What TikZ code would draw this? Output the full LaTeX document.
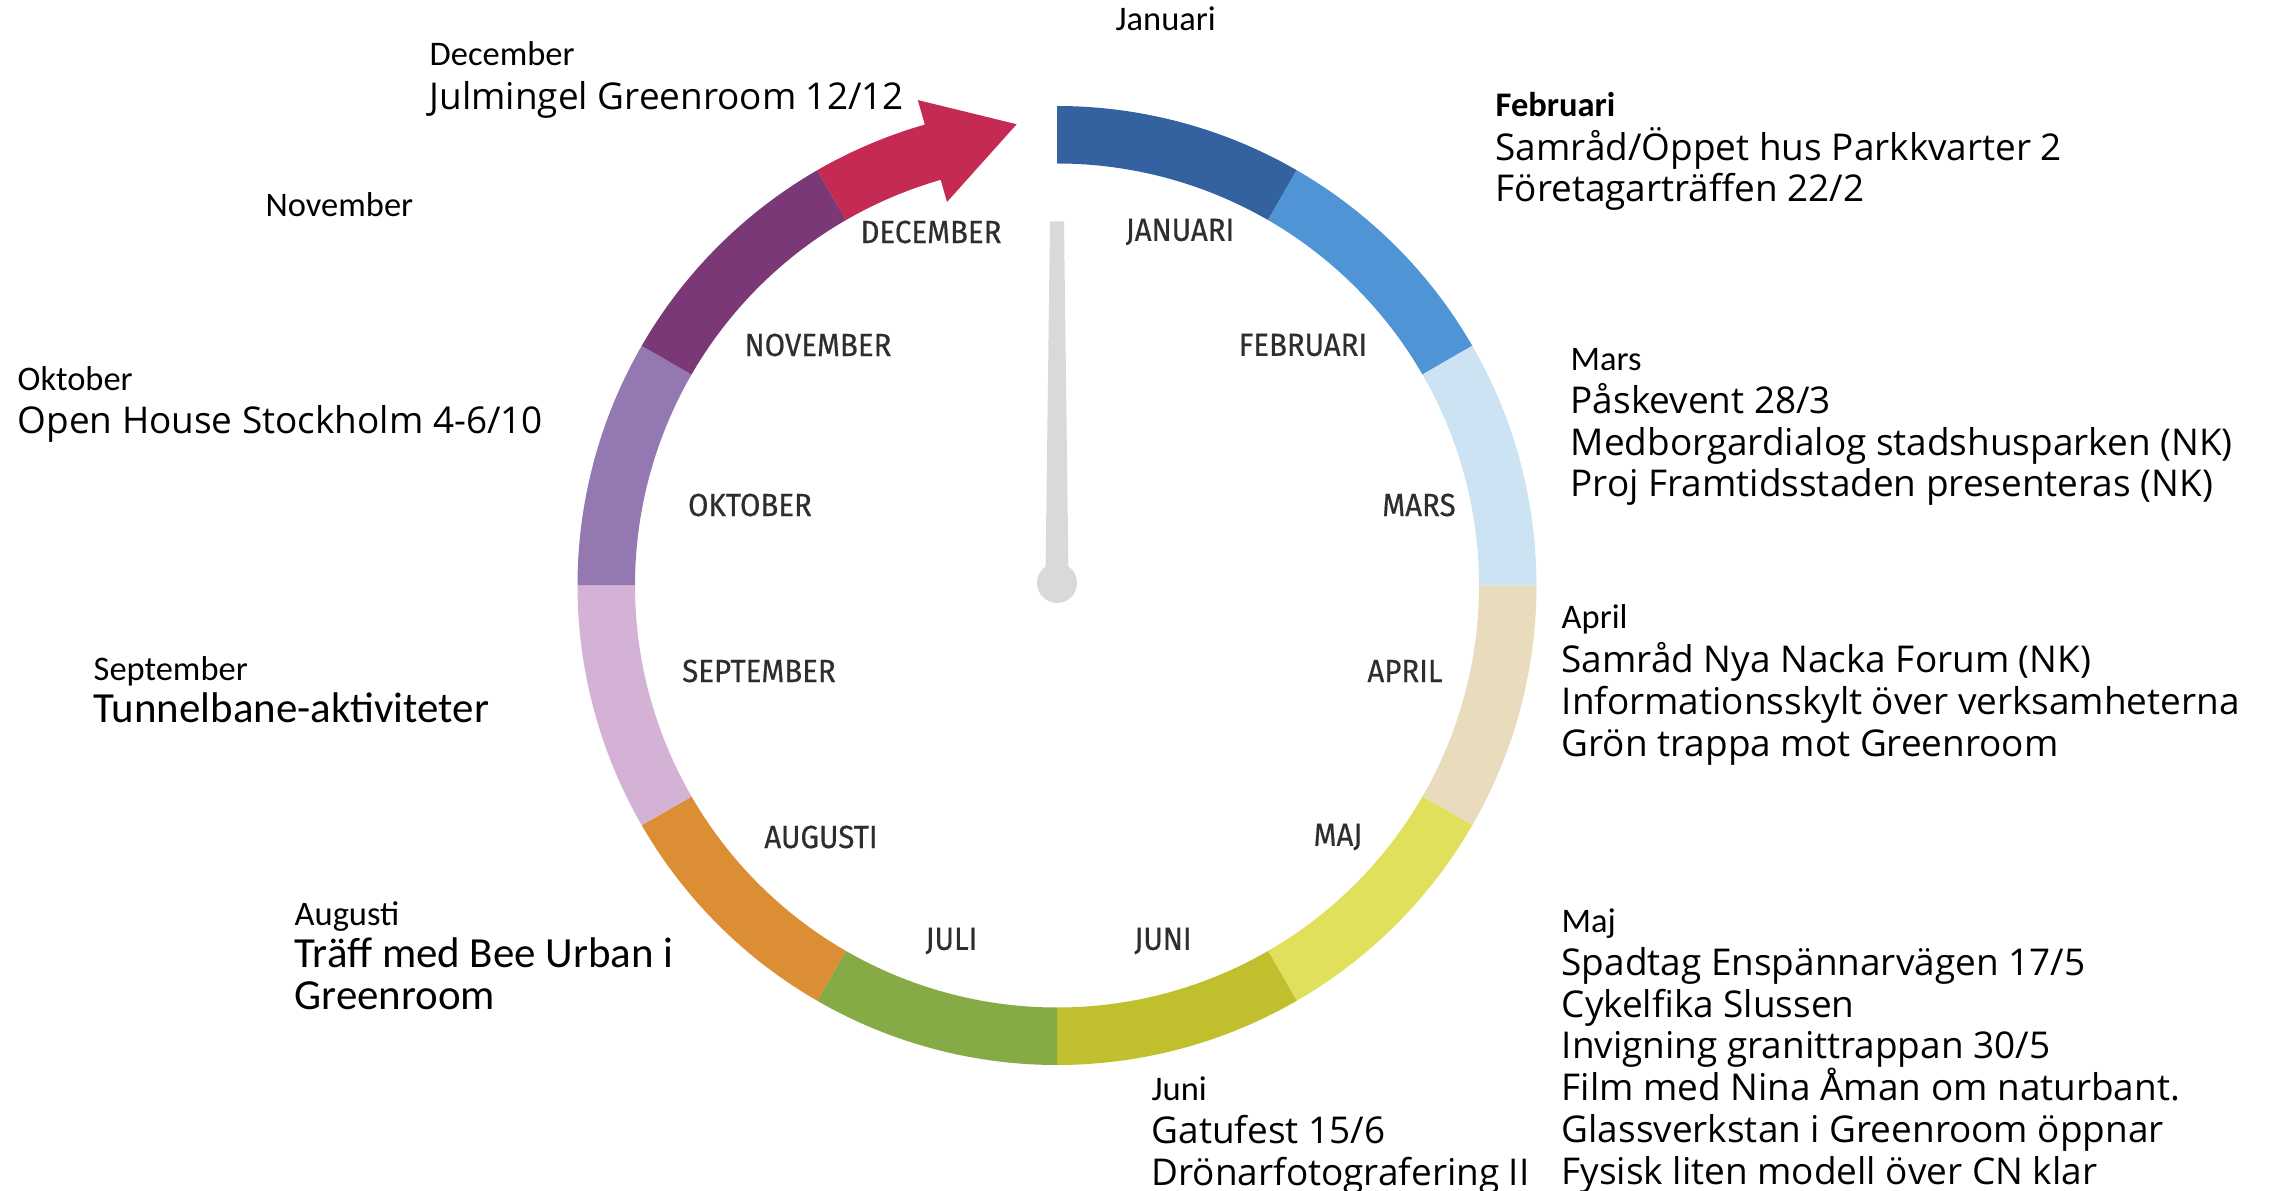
\documentclass[tikz,border=0pt]{standalone}
\usepackage{fontspec}
\setmainfont{Carlito}
\newfontfamily\eventfont{Open Sans}
\newfontfamily\ringfont{Fira Sans}[FakeStretch=0.92,FakeBold=0.5]
\usetikzlibrary{positioning}

\definecolor{janblue}{RGB}{52,98,160}
\definecolor{febblue}{RGB}{79,149,213}
\definecolor{marblue}{RGB}{204,227,243}
\definecolor{aprbeige}{RGB}{233,220,189}
\definecolor{majyellow}{RGB}{224,224,92}
\definecolor{junolive}{RGB}{192,192,46}
\definecolor{julgreen}{RGB}{134,170,70}
\definecolor{augorange}{RGB}{220,142,52}
\definecolor{seplilac}{RGB}{212,178,214}
\definecolor{oktpurple}{RGB}{148,120,178}
\definecolor{novplum}{RGB}{122,56,118}
\definecolor{decred}{RGB}{196,42,82}
\definecolor{needlegray}{RGB}{217,217,217}

\newcommand{\Rout}{479.5}
\newcommand{\Rin}{422}
% one piece of the ring: colour, start angle, end angle
\newcommand{\ringseg}[3]{%
	\fill[#1] (#2:\Rout) arc[start angle=#2,end angle=#3,radius=\Rout]
	-- (#3:\Rin) arc[start angle=#3,end angle=#2,radius=\Rin] -- cycle;}

\begin{document}
\begin{tikzpicture}[x=0.01cm,y=0.01cm]
	
	% Styles for the labels (multi-line nodes sit on the baseline of their last line)
	\tikzset{
		monthhead/.style={font=\fontsize{9.8}{11.86}\selectfont,anchor=base west,inner sep=0},
		eventtxt/.style={font=\eventfont\fontsize{10.5}{11.86}\selectfont,align=left,anchor=base west,inner sep=0},
		eventcal/.style={font=\fontsize{12.2}{11.86}\selectfont,align=left,anchor=base west,inner sep=0},
		ringlbl/.style={font=\ringfont\fontsize{9.1}{10.5}\selectfont,text=black!82,inner sep=0}
	}
	
	\useasboundingbox (0,0) rectangle (2271,-1191);
	
	%========================================
	% The year ring
	%========================================
	\begin{scope}[shift={(1057,-585.5)}]
		
		% Months, clockwise from the top
		\ringseg{janblue}{90}{60}
		\ringseg{febblue}{60}{30}
		\ringseg{marblue}{30}{0}
		\ringseg{aprbeige}{0}{-30}
		\ringseg{majyellow}{-30}{-60}
		\ringseg{junolive}{-60}{-90}
		\ringseg{julgreen}{-90}{-120}
		\ringseg{augorange}{-120}{-150}
		\ringseg{seplilac}{-150}{-180}
		\ringseg{oktpurple}{180}{150}
		\ringseg{novplum}{150}{120}
		
		% December ends in the arrow
		\fill[decred] (120:\Rout) arc[start angle=120,end angle=106,radius=\Rout]
		-- (106:505) -- (95:463) -- (106:399) -- (106:\Rin)
		arc[start angle=106,end angle=120,radius=\Rin] -- cycle;
		
		% Needle
		\fill[needlegray] (-7,364) -- (7,364) -- (11.5,10) -- (-11.5,10) -- cycle;
		\fill[needlegray] (0,2.5) circle[radius=20];
		
	\end{scope}
	
	% Month names inside the ring
	\node[ringlbl] (lbJan) at (1180,-232) {JANUARI};
	\node[ringlbl] (lbFeb) at (1303,-345) {FEBRUARI};
	\node[ringlbl] (lbMar) at (1419,-505) {MARS};
	\node[ringlbl] (lbApr) at (1405,-671) {APRIL};
	\node[ringlbl] (lbMaj) at (1338,-837) {MAJ};
	\node[ringlbl] (lbJun) at (1163,-941) {JUNI};
	\node[ringlbl] (lbJul) at (951.5,-941) {JULI};
	\node[ringlbl] (lbAug) at (821,-837) {AUGUSTI};
	\node[ringlbl] (lbSep) at (759,-671) {SEPTEMBER};
	\node[ringlbl] (lbOkt) at (750,-505) {OKTOBER};
	\node[ringlbl] (lbNov) at (818,-345) {NOVEMBER};
	\node[ringlbl] (lbDec) at (931,-232) {DECEMBER};
	
	%========================================
	% Events, left side
	%========================================
	\node[monthhead] (hdJan) at (1115,-31) {Januari};
	
	\node[monthhead] (hdDec) at (429,-66) {December};
	\node[eventtxt] (evDec) at (429,-110) {Julmingel Greenroom 12/12};
	
	\node[monthhead] (hdNov) at (265,-217) {November};
	
	\node[monthhead] (hdOkt) at (17,-390) {Oktober};
	\node[eventtxt] (evOkt) at (17,-434) {Open House Stockholm 4-6/10};
	
	\node[monthhead] (hdSep) at (93,-680) {September};
	\node[eventcal] (evSep) at (93,-722) {Tunnelbane-aktiviteter};
	
	\node[monthhead] (hdAug) at (294,-925) {Augusti};
	\node[eventcal] (evAug) at (294,-1009) {Träff med Bee Urban i\\Greenroom};
	
	\node[monthhead] (hdJun) at (1151,-1100) {Juni};
	\node[eventtxt] (evJun) at (1151,-1185) {Gatufest 15/6\\Drönarfotografering II};
	
	%========================================
	% Events, right side
	%========================================
	\node[monthhead,font=\bfseries\fontsize{9.8}{11.86}\selectfont] (hdFeb) at (1495,-117) {Februari};
	\node[eventtxt] (evFeb) at (1495,-202) {Samråd/Öppet hus Parkkvarter 2\\Företagarträffen 22/2};
	
	\node[monthhead] (hdMar) at (1570,-370) {Mars};
	\node[eventtxt] (evMar) at (1570,-497) {Påskevent 28/3\\Medborgardialog stadshusparken (NK)\\Proj Framtidsstaden presenteras (NK)};
	
	\node[monthhead] (hdApr) at (1561,-629) {April};
	\node[eventtxt] (evApr) at (1561,-756) {Samråd Nya Nacka Forum (NK)\\Informationsskylt över verksamheterna\\Grön trappa mot Greenroom};
	
	\node[monthhead] (hdMaj) at (1561,-932) {Maj};
	\node[eventtxt] (evMaj) at (1561,-1184) {Spadtag Enspännarvägen 17/5\\Cykelfika Slussen\\Invigning granittrappan 30/5\\Film med Nina Åman om naturbant.\\Glassverkstan i Greenroom öppnar\\Fysisk liten modell över CN klar};
	
\end{tikzpicture}
\end{document}
